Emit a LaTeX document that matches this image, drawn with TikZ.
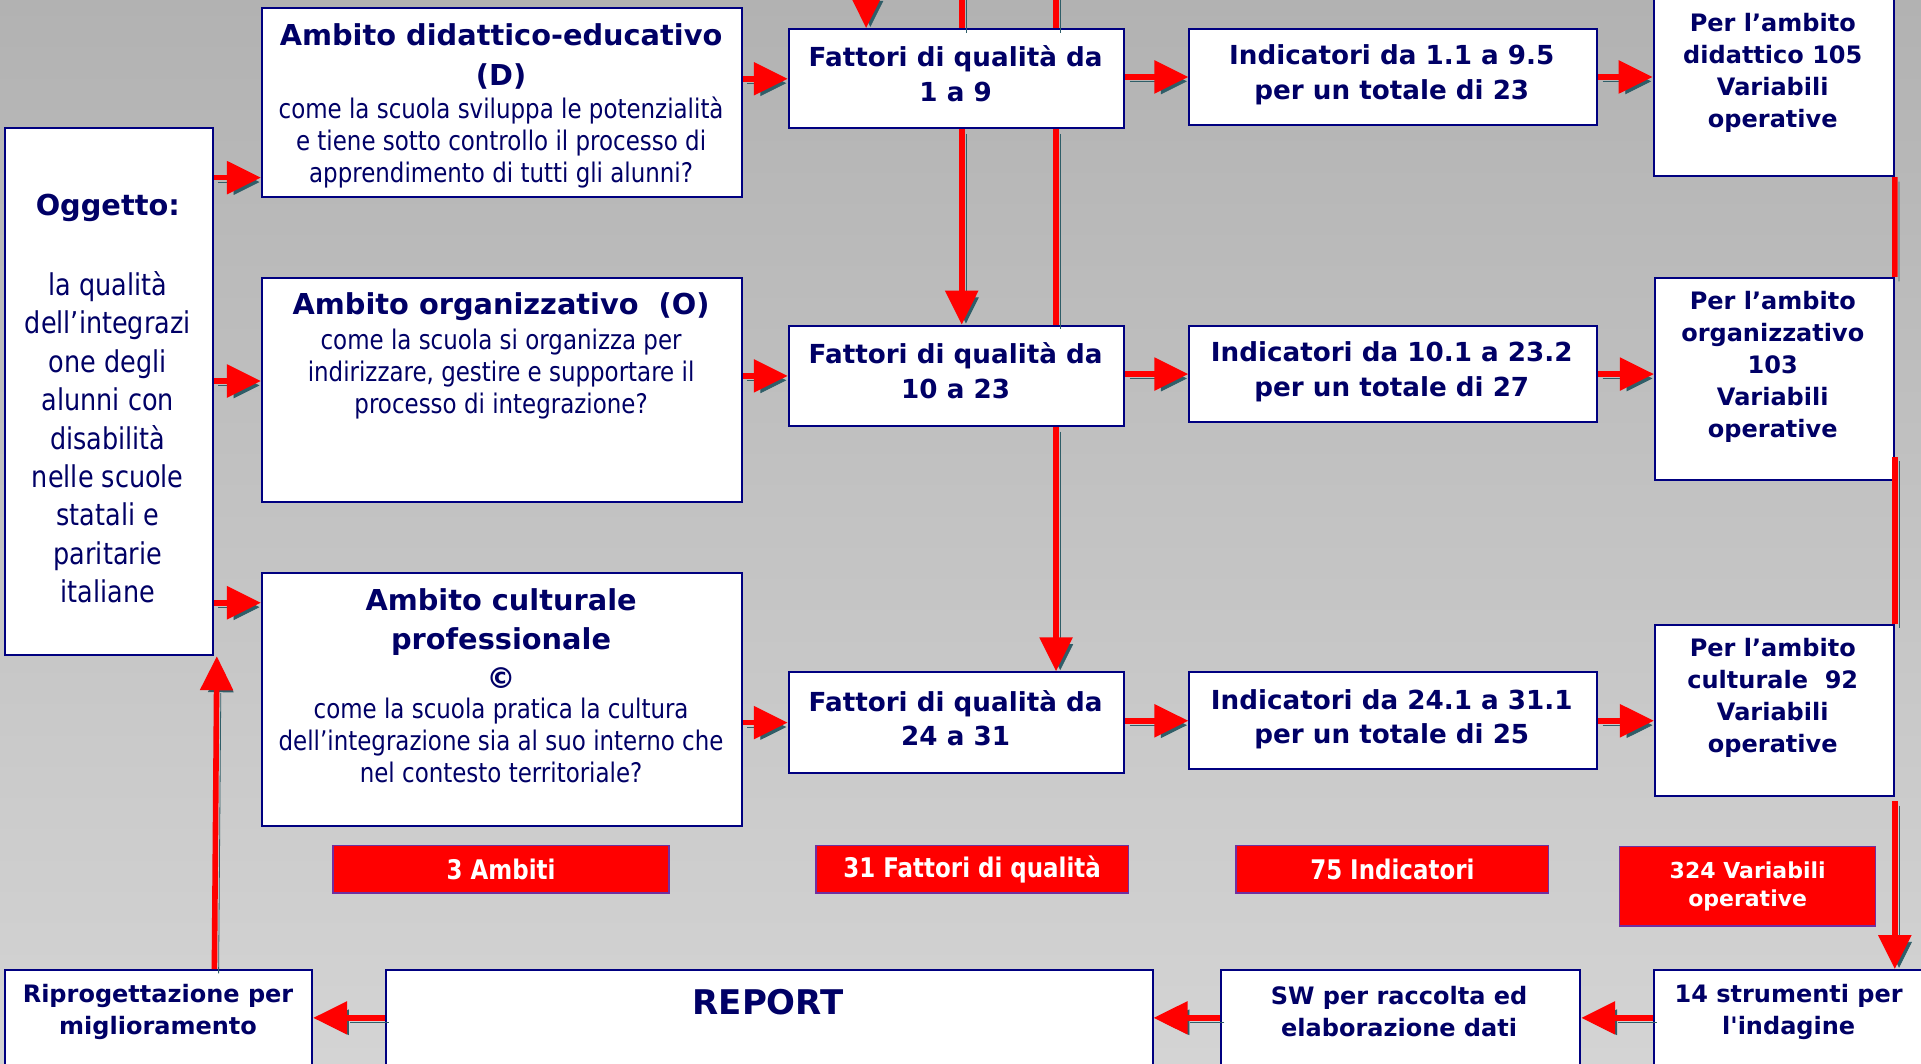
\documentclass[tikz,border=0pt]{standalone}
\usepackage{fontspec}
\setmainfont{DejaVu Sans}[Ligatures=TeXOff]
\newfontfamily\stretto[FakeStretch=0.85,Ligatures=TeXOff]{DejaVu Sans}
\usetikzlibrary{arrows.meta}
\definecolor{blu}{RGB}{0,0,102}
\definecolor{bordo}{RGB}{0,0,128}
\definecolor{rosso}{RGB}{255,0,0}
\definecolor{ombra}{RGB}{47,94,104}
\definecolor{viola}{RGB}{112,48,160}
\definecolor{fondoalto}{RGB}{178,178,178}
\definecolor{fondobasso}{RGB}{212,212,212}
\newcommand{\px}{0.6125pt}

\begin{document}
\begin{tikzpicture}[x=0.6125pt, y=-0.6125pt,
        every node/.append style={text=blu, align=center, inner sep=0pt}]
      \tikzstyle{scatola} = [draw=bordo, fill=white, line width=1pt, anchor=north west]
      \tikzstyle{titolo} = [font=\bfseries\fontsize{14.4}{19.6}\selectfont]
      \tikzstyle{testo} = [font=\stretto\fontsize{13.5}{16}\selectfont]
      \tikzstyle{voce} = [font=\bfseries\fontsize{13.1}{17.2}\selectfont]
      \tikzstyle{piccola} = [font=\bfseries\fontsize{12}{16}\selectfont]
      \tikzstyle{totale} = [draw=viola, fill=rosso, text=white, line width=0.8pt,
        font=\stretto\bfseries\fontsize{13.5}{16}\selectfont]
      \tikzstyle{freccia} = [draw=rosso, line width=2.8pt, -{Triangle[length=17pt,width=16pt]},
        preaction={draw=ombra, transform canvas={shift={(2.1pt,-2.2pt)}}}]
      \tikzstyle{linea} = [freccia, -]
      \useasboundingbox (0,0) rectangle (1568,868);
      \clip (0,0) rectangle (1568,868);
      \shade[top color=fondoalto, bottom color=fondobasso] (0,0) rectangle (1568,868);

      % colonna di sinistra
      \node (oggetto) [scatola, minimum width=170*\px, minimum height=430*\px] at (3,104) {};
      \node [titolo] at (88,170) {Oggetto:};
      \node [testo, font=\stretto\fontsize{15}{19.2}\selectfont] at (88,357)
        {la qualità\\dell’integrazi\\one degli\\alunni con\\disabilità\\nelle scuole\\statali e\\paritarie\\italiane};

      % ambiti
      \node (ambD) [scatola, minimum width=392*\px, minimum height=154*\px] at (213,6) {};
      \node [titolo] at (409,46) {Ambito didattico-educativo\\(D)};
      \node [testo] at (409,116) {come la scuola sviluppa le potenzialità\\e tiene sotto controllo il processo di\\apprendimento di tutti gli alunni?};
      \node (ambO) [scatola, minimum width=392*\px, minimum height=183*\px] at (213,226) {};
      \node [titolo] at (409,250) {Ambito organizzativo~~(O)};
      \node [testo] at (409,305) {come la scuola si organizza per\\indirizzare, gestire e supportare il\\processo di integrazione?};
      \node (ambC) [scatola, minimum width=392*\px, minimum height=206*\px] at (213,467) {};
      \node [titolo] at (409,521) {Ambito culturale\\professionale\\©};
      \node [testo] at (409,604) {come la scuola pratica la cultura\\dell’integrazione sia al suo interno che\\nel contesto territoriale?};

      % fattori di qualita
      \node (fatt1) [scatola, minimum width=274*\px, minimum height=81*\px] at (643,23) {};
      \node [voce] at (780,60) {Fattori di qualità da\\1 a 9};
      \node (fatt2) [scatola, minimum width=274*\px, minimum height=82*\px] at (643,265) {};
      \node [voce] at (780,302.5) {Fattori di qualità da\\10 a 23};
      \node (fatt3) [scatola, minimum width=274*\px, minimum height=82*\px] at (643,548) {};
      \node [voce] at (780,586) {Fattori di qualità da\\24 a 31};

      % indicatori
      \node (ind1) [scatola, minimum width=333*\px, minimum height=78*\px] at (970,23) {};
      \node [voce] at (1136,61) {Indicatori da 1.1 a 9.5\\per un totale di 23};
      \node (ind2) [scatola, minimum width=333*\px, minimum height=79*\px] at (970,265) {};
      \node [voce] at (1136,303.5) {Indicatori da 10.1 a 23.2\\per un totale di 27};
      \node (ind3) [scatola, minimum width=333*\px, minimum height=79*\px] at (970,548) {};
      \node [voce] at (1136,587) {Indicatori da 24.1 a 31.1\\per un totale di 25};

      % variabili operative
      \node (perD) [scatola, minimum width=196*\px, minimum height=163*\px] at (1349,-20) {};
      \node [piccola] at (1447,59.5) {Per l’ambito\\didattico 105\\Variabili\\operative};
      \node (perO) [scatola, minimum width=195*\px, minimum height=165*\px] at (1350,226) {};
      \node [piccola] at (1447,299.5) {Per l’ambito\\organizzativo\\103\\Variabili\\operative};
      \node (perC) [scatola, minimum width=195*\px, minimum height=140*\px] at (1350,509) {};
      \node [piccola] at (1447,569.5) {Per l’ambito\\culturale~~92\\Variabili\\operative};

      % totali
      \node (totA) [totale, minimum width=274*\px, minimum height=39*\px] at (409,709.5) {3 Ambiti};
      \node (totF) [totale, minimum width=255*\px, minimum height=39*\px] at (793.5,709.5) {31 Fattori di qualità};
      \node (totI) [totale, minimum width=255*\px, minimum height=39*\px] at (1136.5,709.5) {75 Indicatori};
      \node (totV) [totale, minimum width=209*\px, minimum height=65*\px,
        font=\bfseries\fontsize{11}{14}\selectfont] at (1426.5,723.5) {324 Variabili\\operative};

      % riga in basso
      \node (ripro) [scatola, minimum width=251*\px, minimum height=78*\px] at (3,791) {};
      \node [piccola] at (129,826) {Riprogettazione per\\miglioramento};
      \node (report) [scatola, minimum width=626*\px, minimum height=78*\px] at (314,791) {};
      \node [font=\bfseries\fontsize{17}{20}\selectfont] at (627,818) {REPORT};
      \node (sw) [scatola, minimum width=293*\px, minimum height=78*\px] at (996,791) {};
      \node [piccola] at (1142,826) {SW per raccolta ed\\elaborazione dati};
      \node (strum) [scatola, minimum width=240*\px, minimum height=78*\px] at (1349,791) {};
      \node [piccola] at (1460,826) {14 strumenti per\\l'indagine};

      % frecce orizzontali
      \draw[freccia] (oggetto.east |- 0,145) -- (ambD.west |- 0,145);
      \draw[freccia] (oggetto.east |- 0,311) -- (ambO.west |- 0,311);
      \draw[freccia] (oggetto.east |- 0,492) -- (ambC.west |- 0,492);
      \draw[freccia] (ambD.east |- fatt1.west) -- (fatt1.west);
      \draw[freccia] (ambO.east |- fatt2.west) -- (fatt2.west);
      \draw[freccia] (ambC.east |- fatt3.west) -- (fatt3.west);
      \draw[freccia] (fatt1.east |- ind1.west) -- (ind1.west);
      \draw[freccia] (fatt2.east |- ind2.west) -- (ind2.west);
      \draw[freccia] (fatt3.east |- ind3.west) -- (ind3.west);
      \draw[freccia] (ind1.east) -- (perD.west |- ind1.east);
      \draw[freccia] (ind2.east) -- (perO.west |- ind2.east);
      \draw[freccia] (ind3.east) -- (perC.west |- ind3.east);

      % frecce verticali
      \coordinate (cima1) at (707,-10);
      \coordinate (cima2) at (785,-10);
      \coordinate (cima3) at (862,-10);
      \draw[freccia] (cima1) -- (cima1 |- fatt1.north);
      \draw[linea] (cima2) -- (cima2 |- fatt1.north);
      \draw[linea] (cima3) -- (cima3 |- fatt1.north);
      \draw[freccia] (cima2 |- fatt1.south) -- (cima2 |- fatt2.north);
      \draw[linea] (cima3 |- fatt1.south) -- (cima3 |- fatt2.north);
      \draw[freccia] (cima3 |- fatt2.south) -- (cima3 |- fatt3.north);
      \draw[linea] (perD.south east) -- (perO.north east);
      \draw[linea] ([yshift=12pt]perO.south east) -- (perC.north east);
      \draw[freccia] ([yshift=-2pt]perC.south east) -- (perC.south east |- strum.north);

      % ritorno
      \draw[freccia] (strum.west) -- (sw.east);
      \draw[freccia] (sw.west) -- (report.east);
      \draw[freccia] (report.west) -- (ripro.east);
      \draw[freccia] (ripro.north -| 175,0) -- (oggetto.south -| 177,0);
    \end{tikzpicture}
\end{document}
